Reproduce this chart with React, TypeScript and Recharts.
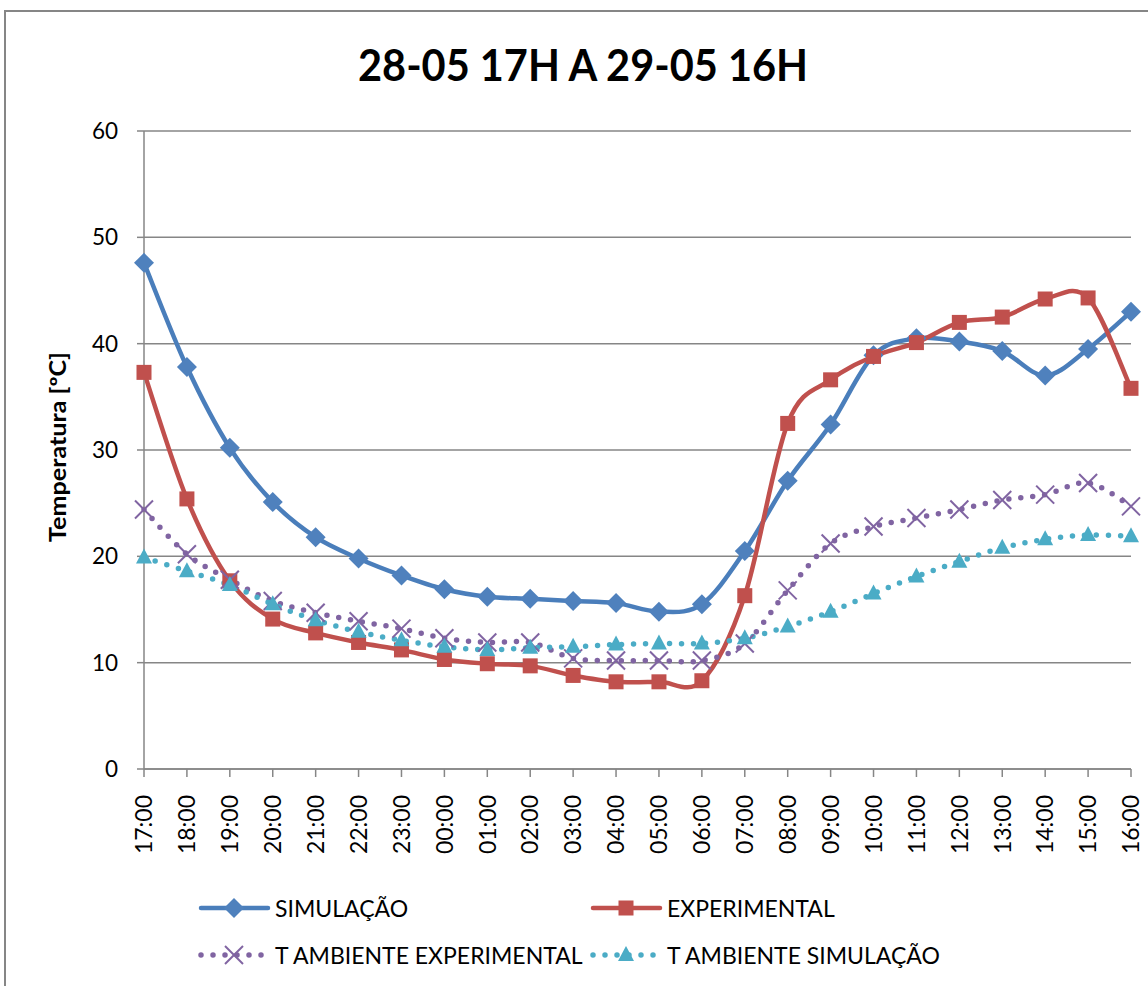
import React from "react";
import {
	CartesianGrid,
	Line,
	LineChart,
	XAxis,
	YAxis,
} from "recharts";

const hours = [
	"17:00", "18:00", "19:00", "20:00", "21:00", "22:00", "23:00", "00:00",
	"01:00", "02:00", "03:00", "04:00", "05:00", "06:00", "07:00", "08:00",
	"09:00", "10:00", "11:00", "12:00", "13:00", "14:00", "15:00", "16:00",
];
const simulacao = [
	47.6, 37.8, 30.2, 25.1, 21.8, 19.8, 18.2, 16.9, 16.2, 16.0, 15.8, 15.6,
	14.8, 15.5, 20.5, 27.1, 32.4, 38.9, 40.5, 40.2, 39.3, 37.0, 39.5, 43.0,
];
const experimental = [
	37.3, 25.4, 17.7, 14.1, 12.8, 11.9, 11.2, 10.3, 9.9, 9.7, 8.8, 8.2,
	8.2, 8.3, 16.3, 32.5, 36.6, 38.8, 40.1, 42.0, 42.5, 44.2, 44.3, 35.8,
];
const tAmbienteExp = [
	24.4, 20.2, 17.8, 15.8, 14.7, 13.9, 13.2, 12.3, 11.9, 11.9, 10.4, 10.2,
	10.2, 10.2, 11.8, 16.8, 21.2, 22.8, 23.6, 24.4, 25.3, 25.8, 26.9, 24.7,
];
const tAmbienteSim = [
	19.9, 18.6, 17.3, 15.5, 14.0, 12.9, 12.1, 11.5, 11.2, 11.4, 11.5, 11.7,
	11.8, 11.8, 12.3, 13.4, 14.8, 16.5, 18.1, 19.5, 20.8, 21.6, 22.0, 21.9,
];
const yTicks = [0, 10, 20, 30, 40, 50, 60];

const data = hours.map((hora, i) => ({
	hora,
	simulacao: simulacao[i],
	experimental: experimental[i],
	tAmbienteExp: tAmbienteExp[i],
	tAmbienteSim: tAmbienteSim[i],
}));

const BLUE = "#4a7ebb";
const RED = "#c0504d";
const PURPLE = "#8064a2";
const CYAN = "#4bacc6";
const GRID = "#868686";
const FONT = "Lato, 'Open Sans', sans-serif";

// smoothed line like the spreadsheet one (Catmull-Rom as cubic beziers)
const smoothCurve = (context: any) => {
	let pts: [number, number][] = [];
	return {
		areaStart() {},
		areaEnd() {},
		lineStart() {
			pts = [];
		},
		point(x: number, y: number) {
			pts.push([+x, +y]);
		},
		lineEnd() {
			if (!pts.length) return;
			context.moveTo(pts[0][0], pts[0][1]);
			for (let i = 0; i < pts.length - 1; i++) {
				const p0 = pts[i - 1] || pts[i];
				const p1 = pts[i];
				const p2 = pts[i + 1];
				const p3 = pts[i + 2] || p2;
				context.bezierCurveTo(
					p1[0] + (p2[0] - p0[0]) / 6,
					p1[1] + (p2[1] - p0[1]) / 6,
					p2[0] - (p3[0] - p1[0]) / 6,
					p2[1] - (p3[1] - p1[1]) / 6,
					p2[0],
					p2[1]
				);
			}
		},
	};
};

const diamond = (cx: number, cy: number, key?: any) => (
	<path
		key={key}
		d={`M${cx},${cy - 10}L${cx + 10},${cy}L${cx},${cy + 10}L${cx - 10},${cy}Z`}
		fill="#4f81bd"
	/>
);
const square = (cx: number, cy: number, key?: any) => (
	<rect key={key} x={cx - 7.5} y={cy - 7.5} width={15} height={15} fill={RED} />
);
const cross = (cx: number, cy: number, key?: any) => (
	<g key={key} stroke={PURPLE} strokeWidth={2}>
		<line x1={cx - 9} y1={cy - 9} x2={cx + 9} y2={cy + 9} />
		<line x1={cx - 9} y1={cy + 9} x2={cx + 9} y2={cy - 9} />
	</g>
);
const triangle = (cx: number, cy: number, key?: any) => (
	<path
		key={key}
		d={`M${cx},${cy - 9}L${cx + 8},${cy + 6}L${cx - 8},${cy + 6}Z`}
		fill={CYAN}
	/>
);

const HourTick = ({ x, y, payload }: any) => (
	<g transform={`translate(${x},${y})`}>
		<text
			transform="rotate(-90)"
			x={-16}
			dy="0.36em"
			textAnchor="end"
			fontFamily={FONT}
			fontSize={23}
			fill="#000"
		>
			{payload.value}
		</text>
	</g>
);

// vertical axis title, stretched to the height it takes in the chart
const AxisTitle = () => (
	<text
		x={58}
		y={447}
		transform="rotate(-90, 58, 447)"
		dy="0.35em"
		textAnchor="middle"
		fontFamily={FONT}
		fontWeight="bold"
		fontSize={22}
		textLength={190}
		lengthAdjust="spacingAndGlyphs"
		fill="#000"
	>
		Temperatura [ºC]
	</text>
);

const LegendItem = ({
	left,
	top,
	color,
	dotted,
	marker,
	label,
}: {
	left: number;
	top: number;
	color: string;
	dotted?: boolean;
	marker: (cx: number, cy: number) => React.ReactNode;
	label: string;
}) => (
	<div
		style={{
			position: "absolute",
			left,
			top,
			display: "flex",
			alignItems: "center",
			fontFamily: FONT,
			fontSize: 23,
			whiteSpace: "nowrap",
		}}
	>
		<svg width={76} height={24}>
			<line
				x1={3}
				y1={12}
				x2={70}
				y2={12}
				stroke={color}
				strokeWidth={dotted ? 5.5 : 4.5}
				strokeLinecap="round"
				strokeDasharray={dotted ? "0 12" : undefined}
			/>
			{marker(36, 12)}
		</svg>
		<span style={{ marginLeft: 1 }}>{label}</span>
	</div>
);

const App: React.FC = () => {
	return (
		<div
			style={{
				position: "absolute",
				left: 0,
				top: 0,
				width: 1148,
				height: 986,
				background: "#fff",
				overflow: "hidden",
			}}
		>
			<div
				style={{
					position: "absolute",
					left: 4,
					top: 10,
					width: 1200,
					height: 1100,
					border: `2px solid ${GRID}`,
				}}
			/>
			<svg
				width={1148}
				height={110}
				style={{ position: "absolute", left: 0, top: 0 }}
			>
				<text
					x={583}
					y={81}
					textAnchor="middle"
					fontFamily={FONT}
					fontWeight="bold"
					fontSize={44}
					textLength={450}
					lengthAdjust="spacingAndGlyphs"
				>
					28-05 17H A 29-05 16H
				</text>
			</svg>
			<div style={{ position: "absolute", left: 0, top: 0 }}>
				<LineChart
					width={1148}
					height={986}
					data={data}
					margin={{ top: 131, right: 17, bottom: 137, left: 44 }}
				>
					<CartesianGrid
						vertical={false}
						stroke={GRID}
						strokeWidth={1.5}
					/>
					<XAxis
						dataKey="hora"
						interval={0}
						height={80}
						tick={<HourTick />}
						tickSize={8}
						axisLine={{ stroke: GRID, strokeWidth: 1.5 }}
						tickLine={{ stroke: GRID, strokeWidth: 1.5 }}
					/>
					<YAxis
						domain={[0, 60]}
						ticks={yTicks}
						width={100}
						tickSize={7}
						tickMargin={19}
						tick={{ fill: "#000", fontSize: 22.5, fontFamily: FONT }}
						axisLine={{ stroke: GRID, strokeWidth: 1.5 }}
						tickLine={{ stroke: GRID, strokeWidth: 1.5 }}
						label={{ content: () => <AxisTitle /> }}
					/>
					<Line
						dataKey="simulacao"
						type={smoothCurve as any}
						stroke={BLUE}
						strokeWidth={4.5}
						dot={(p: any) => diamond(p.cx, p.cy, p.index)}
						isAnimationActive={false}
					/>
					<Line
						dataKey="experimental"
						type={smoothCurve as any}
						stroke={RED}
						strokeWidth={4.5}
						dot={(p: any) => square(p.cx, p.cy, p.index)}
						isAnimationActive={false}
					/>
					<Line
						dataKey="tAmbienteExp"
						type={smoothCurve as any}
						stroke={PURPLE}
						strokeWidth={5.5}
						strokeDasharray="0 12"
						strokeLinecap="round"
						dot={(p: any) => cross(p.cx, p.cy, p.index)}
						isAnimationActive={false}
					/>
					<Line
						dataKey="tAmbienteSim"
						type={smoothCurve as any}
						stroke={CYAN}
						strokeWidth={5.5}
						strokeDasharray="0 12"
						strokeLinecap="round"
						dot={(p: any) => triangle(p.cx, p.cy, p.index)}
						isAnimationActive={false}
					/>
				</LineChart>
			</div>
			<LegendItem left={198} top={894} color={BLUE} marker={diamond} label="SIMULAÇÃO" />
			<LegendItem left={590} top={894} color={RED} marker={square} label="EXPERIMENTAL" />
			<LegendItem left={198} top={941} color={PURPLE} dotted marker={cross} label="T AMBIENTE EXPERIMENTAL" />
			<LegendItem left={590} top={941} color={CYAN} dotted marker={triangle} label="T AMBIENTE SIMULAÇÃO" />
		</div>
	);
};

export default App;
